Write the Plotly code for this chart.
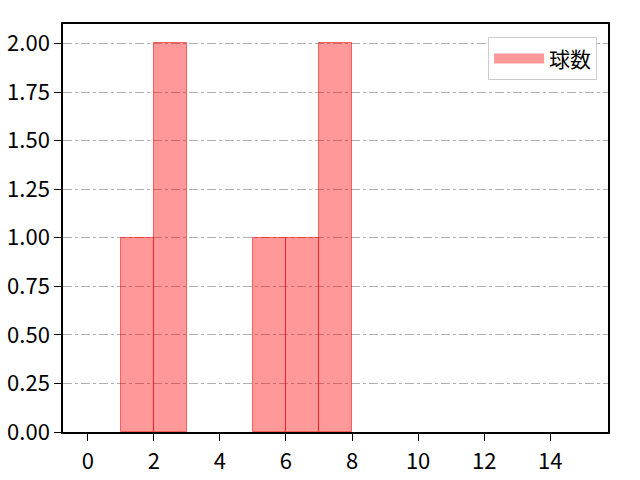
import plotly.graph_objects as go

# histogram of 球数, bins of width 1 from 0 to 15
bin_left = list(range(15))
counts = [0, 1, 2, 0, 0, 1, 1, 2, 0, 0, 0, 0, 0, 0, 0]
series_name = "球数"
y_ticks = [0, 0.25, 0.5, 0.75, 1.0, 1.25, 1.5, 1.75, 2.0]
x_ticks = [0, 2, 4, 6, 8, 10, 12, 14]

bar_fill = "rgba(255,0,0,0.4)"
bar_edge = "rgba(255,0,0,0.55)"

fig = go.Figure()
fig.add_trace(go.Bar(
    name=series_name,
    x=[b + 0.5 for b in bin_left],
    y=counts,
    width=1,
    marker=dict(color=bar_fill,
                line=dict(color=bar_edge, width=[1 if c else 0 for c in counts])),
    showlegend=False,
))
# legend-only entry so the key looks like a wide patch
fig.add_trace(go.Scatter(
    name=series_name, x=[None], y=[None], mode="lines",
    line=dict(color=bar_fill, width=19), showlegend=True,
))

tick_font = dict(family="Noto Sans CJK JP", size=22, color="black")
axis_common = dict(
    showline=True, linecolor="black", linewidth=1.5, mirror=True,
    ticks="outside", ticklen=7, tickwidth=1.3, tickcolor="black",
    tickfont=tick_font, zeroline=False, automargin=False,
)
fig.update_xaxes(range=[-0.75, 15.75], tickvals=x_ticks, showgrid=False,
                 ticklabelstandoff=2, **axis_common)
fig.update_yaxes(range=[0, 2.1], tickvals=y_ticks, tickformat=".2f",
                 showgrid=True, gridcolor="#b0b0b0", gridwidth=1, griddash="dashdot",
                 ticklabelstandoff=0, **axis_common)

fig.update_layout(
    width=640, height=480,
    margin=dict(l=63, r=32, t=24, b=48),
    plot_bgcolor="white", paper_bgcolor="white",
    font=dict(family="Noto Sans CJK JP", size=20, color="black"),
    bargap=0,
    legend=dict(x=0.98, y=0.967, xanchor="right", yanchor="top",
                bgcolor="white", bordercolor="#cccccc", borderwidth=1,
                itemwidth=50, font=dict(family="Noto Sans CJK JP", size=21)),
)

# drop the page's default body margin so the figure sits at the window corner
fig.write_html("out.html", config={"displayModeBar": False},
               post_script="document.body.style.margin='0';")
